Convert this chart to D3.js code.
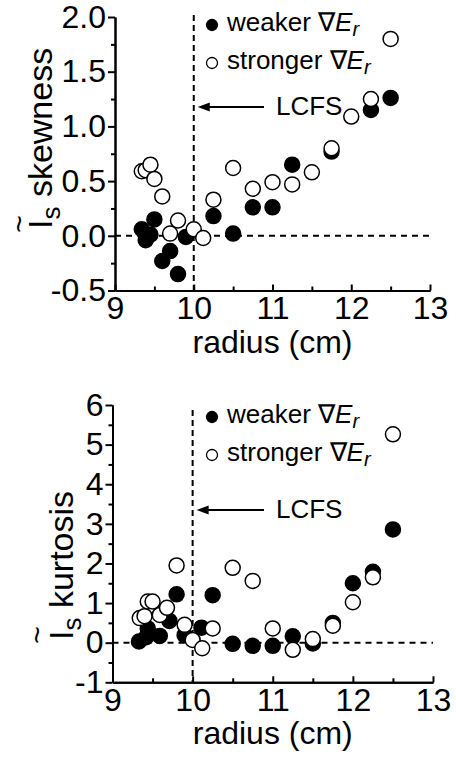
<!DOCTYPE html>
<html>
<head>
<meta charset="utf-8">
<script src="https://cdn.jsdelivr.net/npm/d3@7"></script>
<style>
  body { margin: 0; background: #fff; }
  svg { display: block; font-family: "Liberation Sans", Arial, sans-serif; }
  .axis path, .axis line { stroke: #000; stroke-width: 2; }
  .axis text { font-size: 32px; fill: #000; font-family: "Liberation Sans", Arial, sans-serif; }
</style>
</head>
<body>
<svg id="chart" width="456" height="758"></svg>
<script>
// radius (cm) tick values
const radiusTicks = [9, 10, 11, 12, 13]
const radiusMinor = [9.5, 10.5, 11.5, 12.5]

// skewness panel
const skewWeakerR = [9.34, 9.39, 9.45, 9.50, 9.60, 9.70, 9.80, 9.90, 10.25, 10.50, 10.75, 11.00, 11.25, 11.75, 12.25, 12.50]
const skewWeaker  = [0.06, -0.04, 0.01, 0.15, -0.23, -0.14, -0.35, -0.01, 0.18, 0.02, 0.26, 0.26, 0.65, 0.77, 1.15, 1.26]
const skewStrongerR = [9.34, 9.39, 9.45, 9.50, 9.60, 9.70, 9.80, 10.00, 10.12, 10.25, 10.50, 10.75, 11.00, 11.25, 11.50, 11.75, 12.00, 12.25, 12.50]
const skewStronger  = [0.59, 0.60, 0.65, 0.52, 0.36, 0.02, 0.14, 0.06, -0.02, 0.33, 0.62, 0.43, 0.49, 0.47, 0.58, 0.80, 1.09, 1.25, 1.80]
const skewTicks = [-0.5, 0.0, 0.5, 1.0, 1.5, 2.0]
const skewTickLabels = ["-0.5", "0.0", "0.5", "1.0", "1.5", "2.0"]
const skewMinor = [-0.25, 0.25, 0.75, 1.25, 1.75]

// kurtosis panel
const kurtWeakerR = [9.33, 9.42, 9.44, 9.59, 9.71, 9.80, 9.90, 10.11, 10.25, 10.50, 10.75, 11.00, 11.25, 11.50, 11.75, 12.00, 12.25, 12.50]
const kurtWeaker  = [0.03, 0.14, 0.36, 0.17, 0.55, 1.22, 0.19, 0.38, 1.20, -0.03, -0.08, -0.08, 0.16, -0.02, 0.50, 1.50, 1.79, 2.86]
const kurtStrongerR = [9.34, 9.40, 9.44, 9.50, 9.59, 9.68, 9.80, 9.90, 10.00, 10.12, 10.25, 10.50, 10.75, 11.00, 11.25, 11.50, 11.75, 12.00, 12.25, 12.50]
const kurtStronger  = [0.62, 0.67, 1.04, 1.04, 0.70, 0.88, 1.95, 0.45, 0.07, -0.14, 0.36, 1.89, 1.56, 0.36, -0.18, 0.09, 0.43, 1.02, 1.65, 5.26]
const kurtTicks = [-1, 0, 1, 2, 3, 4, 5, 6]
const kurtTickLabels = ["-1", "0", "1", "2", "3", "4", "5", "6"]
const kurtMinor = [-0.5, 0.5, 1.5, 2.5, 3.5, 4.5, 5.5]

const svg = d3.select("#chart")

const drawPanel = (opt) => {
  const g = svg.append("g")
  const x = d3.scaleLinear().domain([9, 13]).range(opt.xRange)
  const y = d3.scaleLinear().domain(opt.yDomain).range(opt.yRange)
  const x0 = opt.xRange[0]
  const yb = opt.yRange[0]

  // minor ticks
  g.append("g").attr("class", "axis")
    .attr("transform", `translate(0,${yb})`)
    .call(d3.axisBottom(x).tickValues(radiusMinor).tickSizeInner(-4).tickSizeOuter(0).tickFormat(""))
  g.append("g").attr("class", "axis")
    .attr("transform", `translate(${x0},0)`)
    .call(d3.axisLeft(y).tickValues(opt.yMinor).tickSizeInner(4).tickSizeOuter(0).tickFormat(""))

  // major axes
  g.append("g").attr("class", "axis")
    .attr("transform", `translate(0,${yb})`)
    .call(d3.axisBottom(x).tickValues(radiusTicks).tickSizeInner(-6).tickSizeOuter(0).tickPadding(6).tickFormat(d3.format("d")))
  g.append("g").attr("class", "axis")
    .attr("transform", `translate(${x0},0)`)
    .call(d3.axisLeft(y).tickValues(opt.yTicks).tickSizeInner(7).tickSizeOuter(0).tickPadding(2)
      .tickFormat((d, i) => opt.yTickLabels[i]))

  // dashed reference lines
  g.append("line")
    .attr("x1", x0).attr("x2", x(13))
    .attr("y1", y(0)).attr("y2", y(0))
    .attr("stroke", "#000").attr("stroke-width", 2).attr("stroke-dasharray", "6,5")
  g.append("line")
    .attr("x1", x(10)).attr("x2", x(10))
    .attr("y1", opt.vTop).attr("y2", yb)
    .attr("stroke", "#000").attr("stroke-width", 2).attr("stroke-dasharray", "6,4")

  // points: weaker (filled) then stronger (open) on top
  g.append("g").selectAll("circle")
    .data(opt.weakerR.map((r, i) => [r, opt.weaker[i]]))
    .join("circle")
    .attr("cx", d => x(d[0])).attr("cy", d => y(d[1])).attr("r", 7.5)
    .attr("fill", "#000").attr("stroke", "#000").attr("stroke-width", 1.5)
  g.append("g").selectAll("circle")
    .data(opt.strongerR.map((r, i) => [r, opt.stronger[i]]))
    .join("circle")
    .attr("cx", d => x(d[0])).attr("cy", d => y(d[1])).attr("r", 7.5)
    .attr("fill", "#fff").attr("stroke", "#000").attr("stroke-width", 1.5)

  // x title
  g.append("text")
    .attr("x", x(11)).attr("y", yb + 62)
    .attr("text-anchor", "middle")
    .style("font-size", "32px")
    .text("radius (cm)")

  // y title (rotated)
  const yt = g.append("text")
    .attr("transform", `translate(${opt.titleX},${opt.titleY}) rotate(-90)`)
    .style("font-size", "34px")
  yt.append("tspan").text("I")
  yt.append("tspan").attr("dy", 8).style("font-size", "26px").text("s")
  yt.append("tspan").attr("dy", -8).text(" " + opt.yName)
  g.append("text")
    .attr("transform", `translate(${opt.tildeX},${opt.titleY - 5}) rotate(-90)`)
    .attr("text-anchor", "middle")
    .attr("dominant-baseline", "central")
    .style("font-size", "30px")
    .text("~")

  // legend
  const lg = g.append("g").style("font-size", "26px")
  const item = (cy, fill, label) => {
    lg.append("circle").attr("cx", 212).attr("cy", cy).attr("r", 5.5)
      .attr("fill", fill).attr("stroke", "#000").attr("stroke-width", 1.3)
    const t = lg.append("text").attr("x", 227).attr("y", cy + 6)
    t.append("tspan").text(label + " \u2207")
    t.append("tspan").style("font-style", "italic").text("E")
    t.append("tspan").style("font-style", "italic").style("font-size", "20px").attr("dy", 5).text("r")
  }
  item(opt.legendY, "#000", "weaker")
  item(opt.legendY + 38, "#fff", "stronger")

  // LCFS arrow
  const ay = opt.arrowY
  lg.append("line").attr("x1", x(10) + 12).attr("x2", 264).attr("y1", ay).attr("y2", ay)
    .attr("stroke", "#000").attr("stroke-width", 2)
  lg.append("path")
    .attr("d", `M${x(10) + 4},${ay} l12,-4.5 l0,9 z`)
    .attr("fill", "#000")
  lg.append("text").attr("x", 276).attr("y", ay + 8).text("LCFS")
}

drawPanel({
  xRange: [115, 430], yDomain: [-0.5, 2.0], yRange: [290.5, 17],
  yTicks: skewTicks, yTickLabels: skewTickLabels, yMinor: skewMinor,
  weakerR: skewWeakerR, weaker: skewWeaker, strongerR: skewStrongerR, stronger: skewStronger,
  vTop: 15, yName: "skewness", titleX: 52, titleY: 229, tildeX: 18,
  legendY: 25, arrowY: 107
})

drawPanel({
  xRange: [112.5, 433], yDomain: [-1, 6], yRange: [682.3, 405],
  yTicks: kurtTicks, yTickLabels: kurtTickLabels, yMinor: kurtMinor,
  weakerR: kurtWeakerR, weaker: kurtWeaker, strongerR: kurtStrongerR, stronger: kurtStronger,
  vTop: 410, yName: "kurtosis", titleX: 73, titleY: 640, tildeX: 36,
  legendY: 417, arrowY: 510
})
</script>
</body>
</html>
